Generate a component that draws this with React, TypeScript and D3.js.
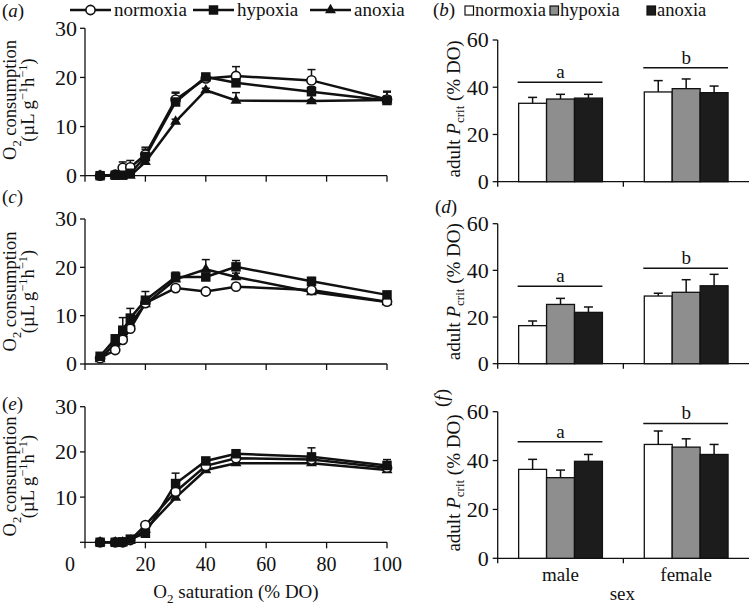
import React from 'react';
import * as d3 from 'd3';

const FONT = '"Liberation Serif", "Times New Roman", Times, serif';

// ---------- data ----------
const o2Levels = [5, 10, 12.5, 15, 20, 30, 40, 50, 75, 100];
const treatments = ['normoxia', 'hypoxia', 'anoxia'];
const sexes = ['male', 'female'];
const xTicks = [0, 20, 40, 60, 80, 100];
const lineYTicks = [0, 10, 20, 30];
const barYTicks = [0, 20, 40, 60];

// panel (a)
const aNormoxia = [0, 0.2, 1.6, 1.7, 4.3, 15.5, 19.8, 20.3, 19.4, 15.5];
const aNormoxiaErr = [0, 0, 1.2, 1.4, 1.5, 1.5, 0.5, 1.9, 2.2, 1.5];
const aHypoxia = [0, 0.1, 0.1, 0.5, 3.9, 15.0, 20.1, 18.9, 17.1, 15.3];
const aHypoxiaErr = [0, 0, 0, 0.3, 1.5, 1.8, 0.6, 0.8, 1.0, 1.9];
const aAnoxia = [0, 0, 0, 0, 2.8, 11.0, 17.4, 15.3, 15.2, 15.4];
const aAnoxiaErr = [0, 0, 0, 0, 0.3, 0.5, 0.4, 1.6, 0.3, 0.8];

// panel (c)
const cNormoxia = [1.2, 2.9, 5.0, 7.3, 12.6, 15.7, 15.0, 16.0, 15.3, 12.9];
const cNormoxiaErr = [0.3, 0.3, 0.5, 0.5, 0.5, 0.5, 0.5, 0.5, 0.5, 0.4];
const cHypoxia = [1.6, 5.2, 7.0, 9.5, 13.2, 18.0, 18.0, 20.1, 17.1, 14.3];
const cHypoxiaErr = [0.3, 0.8, 2.6, 2.0, 1.8, 1.0, 0.8, 1.3, 0.8, 0.4];
const cAnoxia = [1.0, 4.3, 6.2, 8.4, 12.4, 17.5, 19.6, 18.0, 14.9, 12.8];
const cAnoxiaErr = [0.3, 0.6, 0.8, 0.8, 0.8, 0.8, 2.0, 0.8, 0.5, 0.4];

// panel (e)
const eNormoxia = [0, 0, 0, 0.5, 3.8, 11.2, 16.9, 18.6, 18.3, 16.5];
const eNormoxiaErr = [0, 0, 0, 0, 0.4, 0.5, 0.5, 0.5, 0.5, 0.5];
const eHypoxia = [0, 0, 0.1, 0.7, 2.0, 13.0, 18.0, 19.6, 18.9, 17.0];
const eHypoxiaErr = [0, 0, 0, 0, 0.3, 2.3, 0.5, 0.6, 2.0, 1.3];
const eAnoxia = [0, 0, 0, 0.3, 2.8, 9.9, 16.0, 17.5, 17.5, 16.0];
const eAnoxiaErr = [0, 0, 0, 0, 0.3, 0.4, 0.4, 0.4, 0.4, 0.4];

// panel (b)  [normoxia, hypoxia, anoxia]
const bMale = [33.2, 35.0, 35.4];
const bMaleErr = [2.5, 2.0, 1.6];
const bFemale = [38.0, 39.4, 37.7];
const bFemaleErr = [4.8, 4.1, 2.8];
const bSig = [42.1, 48.3];

// panel (d)
const dMale = [16.3, 25.4, 22.0];
const dMaleErr = [2.0, 2.6, 2.3];
const dFemale = [29.0, 30.6, 33.4];
const dFemaleErr = [1.2, 5.4, 4.9];
const dSig = [33.2, 40.9];

// panel (f)
const fMale = [36.4, 33.0, 39.7];
const fMaleErr = [4.1, 3.1, 2.8];
const fFemale = [46.6, 45.5, 42.5];
const fFemaleErr = [5.5, 3.4, 4.1];
const fSig = [47.7, 55.2];

const sigLetters = ['a', 'b'];
const barFills = ['#ffffff', '#8e8e8e', '#1c1c1c'];

// ---------- markers ----------
function Marker({ kind, x, y }: { kind: string; x: number; y: number }) {
  if (kind === 'normoxia') {
    return <circle cx={x} cy={y} r={4.6} fill="#fff" stroke="#111" strokeWidth={1.6} />;
  }
  if (kind === 'hypoxia') {
    const p = d3.symbol().type(d3.symbolSquare).size(90)();
    return <path d={p || ''} transform={`translate(${x},${y})`} fill="#111" />;
  }
  const p = d3.symbol().type(d3.symbolTriangle).size(52)();
  return <path d={p || ''} transform={`translate(${x},${y})`} fill="#111" />;
}

// ---------- line panel ----------
type Series = { kind: string; values: number[]; err: number[] };

function LinePanel({
  tag, tagY, top, bottom, series, showXLabels, labelShift,
}: {
  tag: string; tagY: number; top: number; bottom: number; series: Series[]; showXLabels: boolean; labelShift: number;
}) {
  const x = d3.scaleLinear().domain([0, 100]).range([85, 387]);
  const y = d3.scaleLinear().domain([0, 30]).range([bottom, top]);
  const line = d3
    .line<number>()
    .x((_, i) => x(o2Levels[i]))
    .y((d) => y(d));
  const cy = (top + bottom) / 2 + labelShift;
  return (
    <g>
      <text x={2} y={tagY} fontSize={19}>
        (<tspan fontStyle="italic">{tag}</tspan>)
      </text>
      {/* y label */}
      <text transform={`translate(16,${cy}) rotate(-90)`} textAnchor="middle" fontSize={18.5}>
        O<tspan dy={5} fontSize={12.5}>2</tspan>
        <tspan dy={-5}> consumption</tspan>
      </text>
      <text transform={`translate(33.5,${cy}) rotate(-90)`} textAnchor="middle" fontSize={18.5}>
        (µL g<tspan dy={-6.5} fontSize={12.5}>−1</tspan>
        <tspan dy={6.5}>h</tspan>
        <tspan dy={-6.5} fontSize={12.5}>−1</tspan>
        <tspan dy={6.5}>)</tspan>
      </text>
      {/* axes */}
      <line x1={x(0)} x2={x(0)} y1={y(30)} y2={y(0)} stroke="#111" strokeWidth={1.3} />
      <line x1={x(0)} x2={x(100)} y1={y(0)} y2={y(0)} stroke="#111" strokeWidth={1.3} />
      {lineYTicks.map((t) => (
        <g key={'y' + t}>
          <line x1={x(0) - 5} x2={x(0)} y1={y(t)} y2={y(t)} stroke="#111" strokeWidth={1.3} />
          {!(showXLabels && t === 0) && (
            <text x={x(0) - 8} y={y(t)} dy="0.34em" textAnchor="end" fontSize={22}>
              {t}
            </text>
          )}
        </g>
      ))}
      {xTicks.map((t) => (
        <g key={'x' + t}>
          <line x1={x(t)} x2={x(t)} y1={y(0)} y2={y(0) + 6} stroke="#111" strokeWidth={1.3} />
          {showXLabels && (
            <text x={x(t) - (t === 0 ? 15 : 0)} y={y(0) + 29} textAnchor="middle" fontSize={20}>
              {t}
            </text>
          )}
        </g>
      ))}
      {showXLabels && (
        <text x={(x(0) + x(100)) / 2} y={598} textAnchor="middle" fontSize={19}>
          O<tspan dy={5} fontSize={13}>2</tspan>
          <tspan dy={-5}> saturation (% DO)</tspan>
        </text>
      )}
      {/* lines */}
      {series.map((s) => (
        <path key={'l' + s.kind} d={line(s.values) || ''} fill="none" stroke="#111" strokeWidth={2.5} />
      ))}
      {/* error bars */}
      {series.map((s) =>
        s.values.map((v, i) =>
          s.err[i] > 0 ? (
            <g key={'e' + s.kind + i} stroke="#111" strokeWidth={1.5}>
              <line x1={x(o2Levels[i])} x2={x(o2Levels[i])} y1={y(v)} y2={y(v + s.err[i])} />
              <line x1={x(o2Levels[i]) - 4} x2={x(o2Levels[i]) + 4} y1={y(v + s.err[i])} y2={y(v + s.err[i])} />
            </g>
          ) : null
        )
      )}
      {/* markers */}
      {series.map((s) =>
        s.values.map((v, i) => <Marker key={'m' + s.kind + i} kind={s.kind} x={x(o2Levels[i])} y={y(v)} />)
      )}
    </g>
  );
}

// ---------- bar panel ----------
function BarPanel({
  top, bottom, male, maleErr, female, femaleErr, sig, showXLabels,
}: {
  top: number; bottom: number; male: number[]; maleErr: number[]; female: number[]; femaleErr: number[];
  sig: number[]; showXLabels: boolean;
}) {
  const x0 = d3.scaleBand<string>().domain(sexes).range([497.7, 749]).padding(0);
  const x1 = d3
    .scaleBand<string>()
    .domain(treatments)
    .range([0, x0.bandwidth()])
    .paddingInner(0)
    .paddingOuter(0.75);
  const y = d3.scaleLinear().domain([0, 60]).range([bottom, top]);
  const groups = [
    { sex: 'male', vals: male, errs: maleErr },
    { sex: 'female', vals: female, errs: femaleErr },
  ];
  const cy = (top + bottom) / 2 - 2;
  const axisX = x0.range()[0];
  return (
    <g>
      <text transform={`translate(460,${cy}) rotate(-90)`} textAnchor="middle" fontSize={19}>
        adult <tspan fontStyle="italic">P</tspan>
        <tspan dy={4} fontSize={13}>crit</tspan>
        <tspan dy={-4}> (% DO)</tspan>
      </text>
      <line x1={axisX} x2={axisX} y1={y(60)} y2={y(0) + 5} stroke="#111" strokeWidth={1.3} />
      <line x1={axisX} x2={749} y1={y(0)} y2={y(0)} stroke="#111" strokeWidth={1.3} />
      {barYTicks.map((t) => (
        <g key={'y' + t}>
          <line x1={axisX - 5} x2={axisX} y1={y(t)} y2={y(t)} stroke="#111" strokeWidth={1.3} />
          <text x={axisX - 9} y={y(t)} dy="0.34em" textAnchor="end" fontSize={22}>
            {t}
          </text>
        </g>
      ))}
      {sexes.slice(1).map((s) => (
        <line key={'xt' + s} x1={x0(s)!} x2={x0(s)!} y1={y(0)} y2={y(0) + 5} stroke="#111" strokeWidth={1.3} />
      ))}
      {showXLabels &&
        sexes.map((s) => (
          <text key={'xl' + s} x={x0(s)! + x0.bandwidth() / 2} y={y(0) + 23} textAnchor="middle" fontSize={19}>
            {s}
          </text>
        ))}
      {showXLabels && (
        <text x={(497.7 + 749) / 2 - 1} y={600} textAnchor="middle" fontSize={19}>
          sex
        </text>
      )}
      {groups.map((g, gi) => {
        const gx = x0(g.sex)!;
        const start = gx + x1(treatments[0])!;
        const end = gx + x1(treatments[2])! + x1.bandwidth();
        return (
          <g key={g.sex}>
            {treatments.map((t, i) => {
              const bx = gx + x1(t)!;
              const cx = bx + x1.bandwidth() / 2;
              const topV = g.vals[i] + g.errs[i];
              return (
                <g key={t}>
                  <line x1={cx} x2={cx} y1={y(g.vals[i])} y2={y(topV)} stroke="#111" strokeWidth={1.5} />
                  <line x1={cx - 4.5} x2={cx + 4.5} y1={y(topV)} y2={y(topV)} stroke="#111" strokeWidth={1.5} />
                  <rect
                    x={bx}
                    y={y(g.vals[i])}
                    width={x1.bandwidth()}
                    height={y(0) - y(g.vals[i])}
                    fill={barFills[i]}
                    stroke="#111"
                    strokeWidth={1.3}
                  />
                </g>
              );
            })}
            <line x1={start - 1} x2={end} y1={y(sig[gi])} y2={y(sig[gi])} stroke="#111" strokeWidth={1.5} />
            <text x={(start + end) / 2} y={y(sig[gi]) - 4} textAnchor="middle" fontSize={19}>
              {sigLetters[gi]}
            </text>
          </g>
        );
      })}
    </g>
  );
}

export default function App() {
  const legendItems = treatments.map((t, i) => ({ t, i }));
  return (
    <svg
      width={751}
      height={608}
      style={{ position: 'absolute', left: 0, top: 0, background: '#fff' }}
      fontFamily={FONT}
      fill="#111"
    >
      <rect width={751} height={608} fill="#fff" />
      {/* left legend */}
      <g>
        {legendItems.map(({ t, i }) => {
          const x0 = [70, 193, 310][i];
          return (
            <g key={t}>
              <line x1={x0} x2={x0 + 41} y1={10} y2={10} stroke="#111" strokeWidth={2.4} />
              <Marker kind={t} x={x0 + 20.5} y={10} />
              <text x={x0 + 44} y={15.5} fontSize={19}>
                {t}
              </text>
            </g>
          );
        })}
      </g>
      {/* right legend */}
      <text x={433} y={16} fontSize={19}>
        (<tspan fontStyle="italic">b</tspan>)
      </text>
      {legendItems.map(({ t, i }) => {
        const x0 = [465, 550, 647][i];
        return (
          <g key={'r' + t}>
            <rect x={x0} y={6} width={8.5} height={9} fill={barFills[i]} stroke="#111" strokeWidth={1.2} />
            <text x={x0 + 10} y={15.5} fontSize={18.5}>
              {t}
            </text>
          </g>
        );
      })}
      <text x={435} y={213} fontSize={19}>
        (<tspan fontStyle="italic">d</tspan>)
      </text>
      <text transform="translate(448,398) rotate(-90)" textAnchor="middle" fontSize={19}>
        (<tspan fontStyle="italic">f</tspan>)
      </text>

      <LinePanel
        tag="a"
        tagY={17}
        top={28.3}
        bottom={175.7}
        showXLabels={false}
        labelShift={-2}
        series={[
          { kind: 'anoxia', values: aAnoxia, err: aAnoxiaErr },
          { kind: 'normoxia', values: aNormoxia, err: aNormoxiaErr },
          { kind: 'hypoxia', values: aHypoxia, err: aHypoxiaErr },
        ]}
      />
      <LinePanel
        tag="c"
        tagY={203}
        top={219}
        bottom={364}
        showXLabels={false}
        labelShift={0}
        series={[
          { kind: 'anoxia', values: cAnoxia, err: cAnoxiaErr },
          { kind: 'normoxia', values: cNormoxia, err: cNormoxiaErr },
          { kind: 'hypoxia', values: cHypoxia, err: cHypoxiaErr },
        ]}
      />
      <LinePanel
        tag="e"
        tagY={410}
        top={406.7}
        bottom={542.3}
        showXLabels={true}
        labelShift={2}
        series={[
          { kind: 'anoxia', values: eAnoxia, err: eAnoxiaErr },
          { kind: 'normoxia', values: eNormoxia, err: eNormoxiaErr },
          { kind: 'hypoxia', values: eHypoxia, err: eHypoxiaErr },
        ]}
      />

      <BarPanel top={40} bottom={181.7} male={bMale} maleErr={bMaleErr} female={bFemale} femaleErr={bFemaleErr} sig={bSig} showXLabels={false} />
      <BarPanel top={223.7} bottom={363.7} male={dMale} maleErr={dMaleErr} female={dFemale} femaleErr={dFemaleErr} sig={dSig} showXLabels={false} />
      <BarPanel top={411.7} bottom={558.3} male={fMale} maleErr={fMaleErr} female={fFemale} femaleErr={fFemaleErr} sig={fSig} showXLabels={true} />
    </svg>
  );
}
